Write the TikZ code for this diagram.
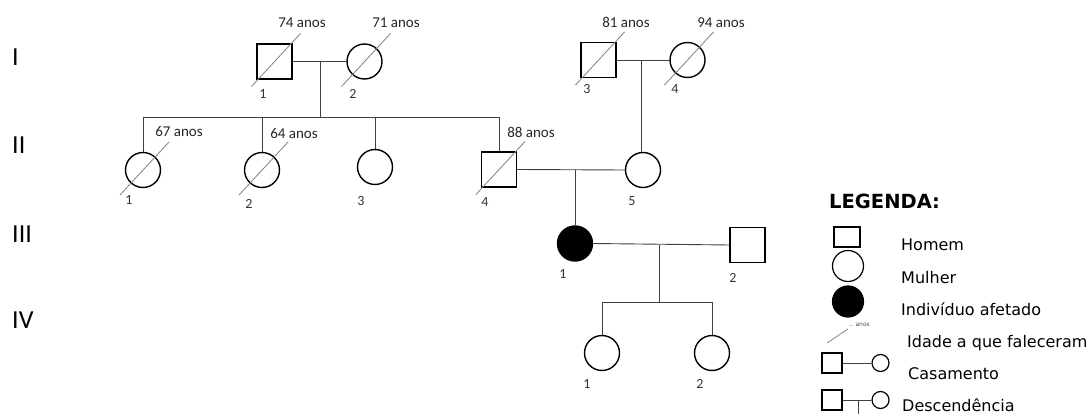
\documentclass[tikz,border=0pt]{standalone}
\usepackage{fontspec}
\setmainfont{Carlito}
\newfontfamily\legfont{DejaVu Sans}
\begin{document}
\begin{tikzpicture}[x=1pt,y=-1pt,
  male/.style={draw=black,line width=1.4pt,minimum size=35pt,inner sep=0pt,rectangle},
  female/.style={draw=black,line width=1.4pt,minimum size=35pt,inner sep=0pt,circle},
  affected/.style={female,fill=black},
  conn/.style={draw=black!75,line width=0.9pt},
  dline/.style={draw=black!50,line width=0.8pt},
  age/.style={font=\fontsize{15}{18}\selectfont,anchor=base,inner sep=0pt,text=black!85},
  num/.style={font=\fontsize{14}{16}\selectfont,anchor=base,inner sep=0pt,text=black!80},
  gen/.style={font=\fontsize{26}{30}\selectfont,anchor=base west,inner sep=0pt},
  leg/.style={font=\legfont\fontsize{16}{19}\selectfont,anchor=base west,inner sep=0pt},
  lmale/.style={draw=black,line width=1.2pt,minimum width=26pt,minimum height=20pt,inner sep=0pt,rectangle},
  lfemale/.style={draw=black,line width=1.2pt,minimum size=31pt,inner sep=0pt,circle},
  lsmale/.style={draw=black,line width=1.2pt,minimum width=20pt,minimum height=20pt,inner sep=0pt,rectangle},
  lsfemale/.style={draw=black,line width=1.2pt,minimum size=17pt,inner sep=0pt,circle}]
\useasboundingbox (0,0) rectangle (1092,414);

% generation labels
\node[gen] (gI) at (12,66) {I};
\node[gen] (gII) at (12,154) {II};
\node[gen] (gIII) at (12,242) {III};
\node[gen] (gIV) at (12,328) {IV};

% generation I
\node[male] (I1) at (274.5,61.5) {};
\node[female] (I2) at (364.5,61.5) {};
\node[male] (I3) at (598.5,60) {};
\node[female] (I4) at (687.5,60) {};
% generation II
\node[female] (II1) at (143,170) {};
\node[female] (II2) at (262,170) {};
\node[female] (II3) at (375,167) {};
\node[male] (II4) at (499,169.5) {};
\node[female] (II5) at (643,170) {};
% generation III
\node[affected] (III1) at (575,243.5) {};
\node[male] (III2) at (747.5,245) {};
% generation IV
\node[female] (IV1) at (602,353) {};
\node[female] (IV2) at (712,353) {};

% deceased marks
\foreach \n in {I1,I2,I3,I4,II1,II2,II4}{
  \draw[dline] ([shift={(-23,25)}]\n.center) -- ([shift={(26,-28)}]\n.center);
}

% ages
\node[age] (aI1) at (302,28) {74 anos};
\node[age] (aI2) at (396,28) {71 anos};
\node[age] (aI3) at (626,28) {81 anos};
\node[age] (aI4) at (721,28) {94 anos};
\node[age] (aII1) at (179,137) {67 anos};
\node[age] (aII2) at (294,139) {64 anos};
\node[age] (aII4) at (531,138) {88 anos};

% numbers
\node[num] (nI1) at (263,99) {1};
\node[num] (nI2) at (353,99) {2};
\node[num] (nI3) at (587,94) {3};
\node[num] (nI4) at (675,94) {4};
\node[num] (nII1) at (129,205) {1};
\node[num] (nII2) at (249,208) {2};
\node[num] (nII3) at (361,206) {3};
\node[num] (nII4) at (485,207) {4};
\node[num] (nII5) at (632,206) {5};
\node[num] (nIII1) at (563,278) {1};
\node[num] (nIII2) at (733,282) {2};
\node[num] (nIV1) at (587,388) {1};
\node[num] (nIV2) at (700,388) {2};

% connectors
\coordinate (mI12) at (320.5,61.5);
\coordinate (sII) at (320.5,117);
\draw[conn] (I1.east) -- (I2.west);
\draw[conn] (mI12) -- (sII);
\draw[conn] (II1.north) -- (II1.north |- sII) -- (II4.north |- sII) -- (II4.north);
\draw[conn] (II2.north) -- (II2.north |- sII);
\draw[conn] (II3.north) -- (II3.north |- sII);

\coordinate (mI34) at (641,60);
\draw[conn] (I3.east) -- (I4.west);
\draw[conn] (mI34) -- (mI34 |- II5.north);

\coordinate (mII45) at (575,170);
\draw[conn] (II4.east) -- (II5.west);
\draw[conn] (mII45) -- (III1.north);

\coordinate (mIII) at (659,245);
\coordinate (sIV) at (659,302);
\draw[conn] (III1.east) -- (III2.west);
\draw[conn] (mIII) -- (sIV);
\draw[conn] (IV1.north) -- (IV1.north |- sIV) -- (IV2.north |- sIV) -- (IV2.north);

% legend
\node[font=\legfont\bfseries\fontsize{19.5}{23}\selectfont,anchor=base west,inner sep=0pt] (lt) at (829,208) {LEGENDA:};
\node[lmale] (lm) at (847,237) {};
\node[leg] (lmt) at (901,250) {Homem};
\node[lfemale] (lf) at (848,266) {};
\node[leg] (lft) at (901,283) {Mulher};
\node[lfemale,fill=black] (la) at (848,301.5) {};
\node[leg] (lat) at (901,315) {Indivíduo afetado};
\coordinate (ld1) at (827,343);
\coordinate (ld2) at (848,329);
\draw[dline] (ld1) -- (ld2);
\node[font=\legfont\fontsize{6}{7}\selectfont,anchor=west,inner sep=0pt,text=black!70] (lan) at (849,325) {.. anos};
\node[leg] (ldt) at (907,347) {Idade a que faleceram};
\node[lsmale] (lcm) at (832,363) {};
\node[lsfemale] (lcf) at (880.5,363) {};
\draw[conn] (lcm.east) -- (lcf.west);
\node[leg] (lct) at (908,379) {Casamento};
\node[lsmale] (ldm) at (832,400) {};
\node[lsfemale] (ldf) at (880.5,400) {};
\coordinate (ldj) at (858,400);
\coordinate (ldb) at (858,414);
\draw[conn] (ldm.east) -- (ldf.west);
\draw[conn] (ldj) -- (ldb);
\node[leg] (lst) at (902,411) {Descendência};
\end{tikzpicture}
\end{document}
